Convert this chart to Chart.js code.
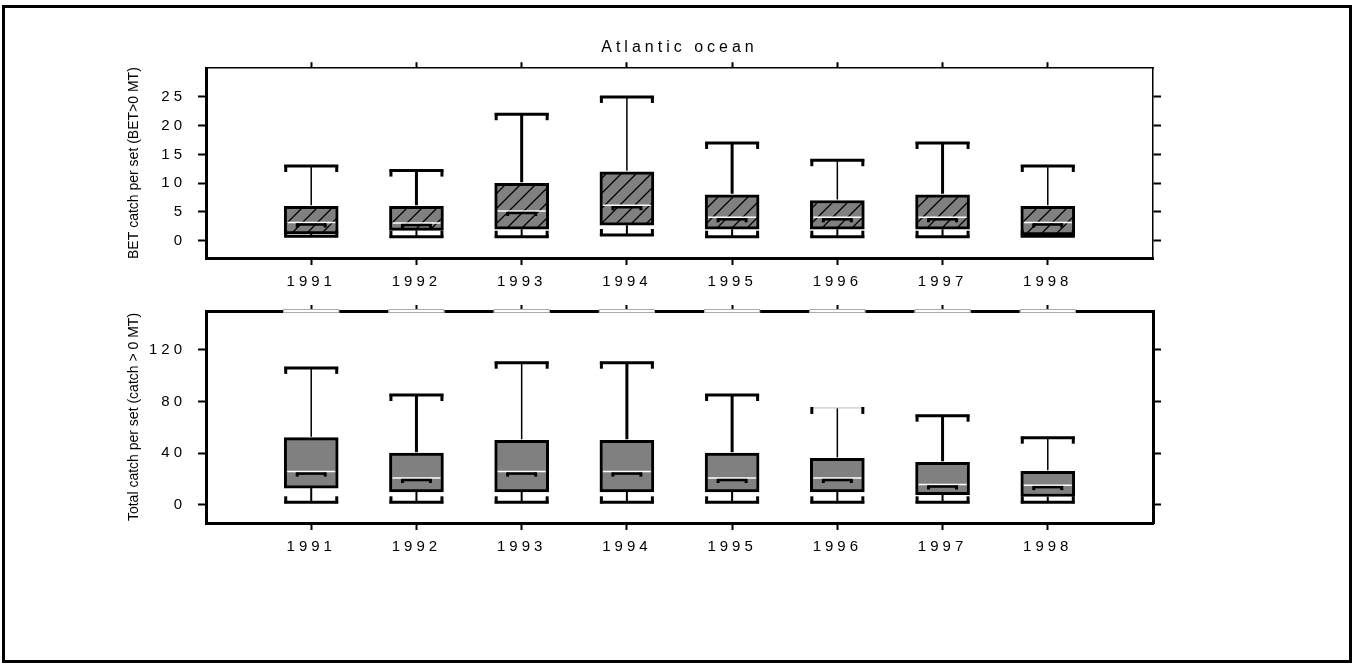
<!DOCTYPE html>
<html lang="en">
<head>
<meta charset="UTF-8" />
<script src="https://cdn.jsdelivr.net/npm/chart.js@4.4.0/dist/chart.umd.min.js"></script>
<title>Atlantic ocean</title>
<style>
  html, body { margin: 0; padding: 0; background: #fff; }
  #frame { position: absolute; left: 2px; top: 5px; width: 1350px; height: 658px; box-sizing: border-box; border: 3px solid #000; }
  canvas { position: absolute; left: 0; }
  #topChart { top: 0; }
  #bottomChart { top: 290px; }
</style>
</head>
<body>
<div id="frame"></div>
<canvas id="topChart" width="1353" height="300"></canvas>
<canvas id="bottomChart" width="1353" height="290"></canvas>
<script>
const years = [1991, 1992, 1993, 1994, 1995, 1996, 1997, 1998];

// BET catch per set (BET>0 MT)
const betMin    = [0.8, 0.7, 0.7, 1.0, 0.7, 0.7, 0.7, 0.8];
const betQ1     = [1.2, 1.8, 2.0, 2.7, 2.0, 2.0, 2.0, 1.0];
const betMedian = [3.0, 2.9, 5.0, 6.0, 3.9, 3.9, 3.9, 3.0];
const betQ3     = [6, 6, 10, 12, 8, 7, 8, 6];
const betMax    = [13, 12.2, 22, 25, 17, 14, 17, 13];
const betTicks  = [0, 5, 10, 15, 20, 25];

// Total catch per set (catch > 0 MT)
const totMin    = [2, 2, 2, 2, 2, 2, 2, 2];
const totQ1     = [13, 10, 10, 10, 10, 10, 8, 6.5];
const totMedian = [25, 20, 25, 25, 20, 20, 15, 14.5];
const totQ3     = [52, 40, 50, 50, 40, 36, 33, 26];
const totMax    = [106, 85, 110, 110, 85, 75, 69, 52];
const totTicks  = [0, 40, 80, 120];

Chart.defaults.font.family = 'Arial, "Liberation Sans", sans-serif';
Chart.defaults.color = '#000';

// line widths of the upper whiskers / caps, per box
const betWhisker = [1.5, 3, 3, 1.5, 3, 1.5, 3, 1.5];
const totWhisker = [1.5, 3, 1.5, 3, 3, 1.5, 3, 1.5];
const betCap = [3, 3, 3, 3, 3, 3, 3, 3];
const totCap = [3, 3, 3, 3, 3, 1, 3, 3];

function hatch() {
	const c = document.createElement('canvas');
	c.width = 15; c.height = 15;
	const g = c.getContext('2d');
	g.fillStyle = '#808080';
	g.fillRect(0, 0, 15, 15);
	g.strokeStyle = '#000';
	g.lineWidth = 1.3;
	g.beginPath();
	g.moveTo(0, 15); g.lineTo(15, 0);
	g.moveTo(-2, 2); g.lineTo(2, -2);
	g.moveTo(13, 17); g.lineTo(17, 13);
	g.stroke();
	return g.createPattern(c, 'repeat');
}

function seg(ctx, x1, y1, x2, y2, w, color) {
	ctx.beginPath();
	ctx.lineWidth = w;
	ctx.strokeStyle = color || '#000';
	ctx.moveTo(x1, y1);
	ctx.lineTo(x2, y2);
	ctx.stroke();
}

function boxPlugin(st, whisker, cap, gaps) {
	return {
		id: 'boxes',
		beforeDraw(chart) {
			chart.ctx.letterSpacing = '0px';
		},
		afterDatasetsDraw(chart) {
			const ctx = chart.ctx;
			const y = chart.scales.y;
			const bars = chart.getDatasetMeta(0).data;
			ctx.save();
			bars.forEach((bar, i) => {
				const cx = bar.x, half = bar.width / 2;
				const pMin = y.getPixelForValue(st.min[i]);
				const pQ1 = y.getPixelForValue(st.q1[i]);
				const pMed = y.getPixelForValue(st.med[i]);
				const pQ3 = y.getPixelForValue(st.q3[i]);
				const pMax = y.getPixelForValue(st.max[i]);
				// upper whisker and cap
				seg(ctx, cx, pQ3 - 1, cx, pMax, whisker[i]);
				seg(ctx, cx - half, pMax, cx + half, pMax, cap[i], cap[i] < 2 ? '#bbb' : '#000');
				seg(ctx, cx - half + 1.5, pMax - 1, cx - half + 1.5, pMax + 6, 3);
				seg(ctx, cx + half - 1.5, pMax - 1, cx + half - 1.5, pMax + 6, 3);
				// lower whisker and cap
				seg(ctx, cx, pQ1, cx, pMin, 2);
				seg(ctx, cx - half, pMin, cx + half, pMin, 3);
				seg(ctx, cx - half + 1.5, pMin + 1, cx - half + 1.5, pMin - 6, 3);
				seg(ctx, cx + half - 1.5, pMin + 1, cx + half - 1.5, pMin - 6, 3);
				// median
				seg(ctx, cx - half + 3, pMed - 1, cx + half - 3, pMed - 1, 1.5, '#fff');
				seg(ctx, cx - 15, pMed + 1, cx + 15, pMed + 1, 2.5);
				seg(ctx, cx - 14, pMed, cx - 14, pMed + 4, 3);
				seg(ctx, cx + 14, pMed, cx + 14, pMed + 4, 3);
			});
			ctx.restore();
			ctx.letterSpacing = '4px';
		},
		afterDraw(chart) {
			if (!gaps) return;
			const ctx = chart.ctx;
			const top = chart.chartArea.top;
			ctx.save();
			chart.getDatasetMeta(0).data.forEach((bar) => {
				const half = bar.width / 2 + 1;
				ctx.fillStyle = '#fff';
				ctx.fillRect(bar.x - half, top - 2, half * 2, 4);
				ctx.strokeStyle = '#aaa';
				ctx.lineWidth = 1;
				ctx.strokeRect(bar.x - half + 0.5, top - 1.5, half * 2 - 1, 3);
			});
			ctx.restore();
		}
	};
}

function makeChart(id, o) {
	const tickFont = { size: 15 };
	const yTicks = (s) => { s.ticks = o.ticks.map((v) => ({ value: v })); };
	const xTicks = (s) => { s.ticks = years.map((v) => ({ value: v })); };
	const yGrid = { drawOnChartArea: false, tickLength: 8, tickWidth: 2, tickColor: '#000' };
	const xGrid = { drawOnChartArea: false, tickLength: 7, tickWidth: 2, tickColor: '#000' };

	return new Chart(document.getElementById(id), {
		type: 'bar',
		data: {
			datasets: [{
				data: years.map((yr, i) => ({ x: yr, y: [o.st.q1[i], o.st.q3[i]] })),
				backgroundColor: o.fill,
				borderColor: '#000',
				borderWidth: 3,
				borderSkipped: false,
				barThickness: 54
			}]
		},
		options: {
			responsive: false,
			devicePixelRatio: 1,
			animation: false,
			events: [],
			layout: { padding: o.padding },
			plugins: { legend: { display: false }, tooltip: { enabled: false }, title: { display: false } },
			scales: {
				x: {
					type: 'linear', position: 'bottom', min: 1990, max: 1999, offset: false,
					afterBuildTicks: xTicks,
					afterFit: (s) => { s.height = 33; },
					grid: Object.assign({ offset: false }, xGrid),
					border: { color: '#000', width: 3 },
					ticks: { font: tickFont, padding: 8, z: 1, maxRotation: 0, autoSkip: false, callback: (v) => String(v) }
				},
				x2: {
					type: 'linear', position: 'top', min: 1990, max: 1999, offset: false,
					afterBuildTicks: xTicks,
					grid: Object.assign({ offset: false, z: 1 }, xGrid, { tickLength: 6 }),
					border: { color: '#000', width: o.topBorder, z: 1 },
					ticks: { display: false, z: 1 },
					title: o.title
				},
				y: {
					type: 'linear', position: 'left', min: o.min, max: o.max,
					afterBuildTicks: yTicks,
					afterFit: (s) => { s.width = 86; },
					grid: yGrid,
					border: { color: '#000', width: 3 },
					ticks: { font: tickFont, padding: 12, z: 1, callback: (v) => String(v) },
					title: { display: true, text: o.yTitle, font: { size: 14 }, padding: { top: 5.6, bottom: 0 } }
				},
				y2: {
					type: 'linear', position: 'right', min: o.min, max: o.max,
					afterBuildTicks: yTicks,
					afterFit: (s) => { s.width = 10; },
					grid: yGrid,
					border: { color: '#000', width: o.rightBorder },
					ticks: { display: false }
				}
			}
		},
		plugins: [boxPlugin(o.st, o.whisker, o.cap, o.gaps)]
	});
}

makeChart('topChart', {
	st: { min: betMin, q1: betQ1, med: betMedian, q3: betQ3, max: betMax },
	ticks: betTicks, min: -3, max: 30,
	fill: hatch(),
	whisker: betWhisker, cap: betCap, gaps: false,
	yTitle: 'BET catch per set (BET>0 MT)',
	title: { display: true, text: 'Atlantic ocean', font: { size: 16 }, padding: { top: 38, bottom: 5 } },
	topBorder: 1.5, rightBorder: 1.5,
	padding: { left: 120, right: 190, top: 0, bottom: 9 }
});

makeChart('bottomChart', {
	st: { min: totMin, q1: totQ1, med: totMedian, q3: totQ3, max: totMax },
	ticks: totTicks, min: -14, max: 150,
	fill: '#808080',
	whisker: totWhisker, cap: totCap, gaps: true,
	yTitle: 'Total catch per set (catch > 0 MT)',
	title: { display: false },
	topBorder: 3, rightBorder: 3,
	padding: { left: 120, right: 190, top: 14, bottom: 24 }
});
</script>
</body>
</html>
